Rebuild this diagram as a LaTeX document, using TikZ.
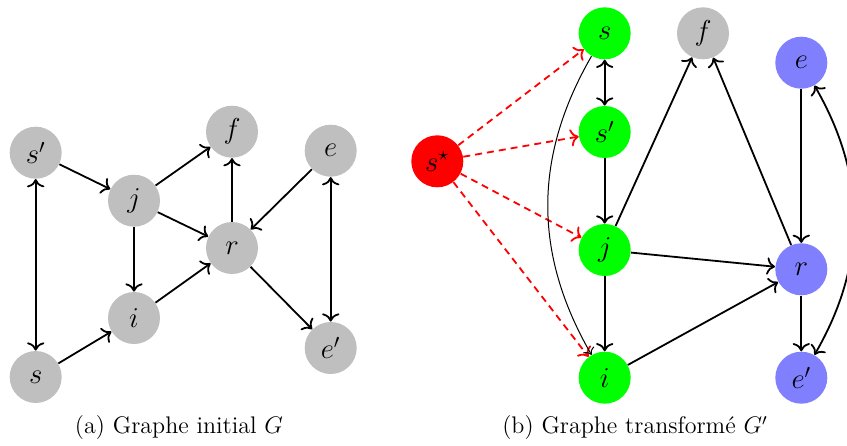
\documentclass[tikz,border=0pt]{standalone}
\usetikzlibrary{arrows.meta}
\begin{document}
\begin{tikzpicture}[x=0.5pt,y=-0.5pt,>={To[scale=1.15]},
  vtx/.style={circle,minimum size=26pt,inner sep=0pt,font=\Large},
  gv/.style={vtx,fill=lightgray},
  gn/.style={vtx,fill=green},
  bv/.style={vtx,fill=blue!50},
  rv/.style={vtx,fill=red},
  ed/.style={->,line width=0.9pt},
  bed/.style={<->,line width=0.9pt},
  redarr/.style={->,draw=red,dash pattern=on 3.5pt off 2.5pt,line width=0.9pt},
  captxt/.style={font=\large}]
\useasboundingbox (0,0) rectangle (847,445);
% (a)
\node[gv] (sp) at (35.7,152.7) {$s'$};
\node[gv] (j) at (134,200.7) {$j$};
\node[gv] (f) at (232,131.7) {$f$};
\node[gv] (e) at (330.7,150.7) {$e$};
\node[gv] (r) at (232,248) {$r$};
\node[gv] (i) at (134,318) {$i$};
\node[gv] (s) at (35.7,377) {$s$};
\node[gv] (ep) at (330.7,348) {$e'$};
\node[captxt] (capa) at (179,428) {(a) Graphe initial $G$};
\draw[bed] (sp) -- (s);
\draw[ed] (s) -- (i);
\draw[ed] (sp) -- (j);
\draw[ed] (j) -- (f);
\draw[ed] (j) -- (r);
\draw[ed] (j) -- (i);
\draw[ed] (i) -- (r);
\draw[ed] (r) -- (f);
\draw[ed] (e) -- (r);
\draw[ed] (r) -- (ep);
\draw[bed] (e) -- (ep);
% (b)
\node[rv] (ss) at (437.3,161.3) {$s^\star$};
\node[gn] (s2) at (604.7,33.3) {$s$};
\node[gn] (sp2) at (604.7,132) {$s'$};
\node[gn] (j2) at (604.7,250) {$j$};
\node[gn] (i2) at (604.7,377.7) {$i$};
\node[gv] (f2) at (703,33.3) {$f$};
\node[bv] (e2) at (801.3,62.7) {$e$};
\node[bv] (r2) at (801.3,269.3) {$r$};
\node[bv] (ep2) at (801.3,377.7) {$e'$};
\node[captxt] (capb) at (635,428) {(b) Graphe transformé $G'$};
\draw[redarr] (ss) -- (s2);
\draw[redarr] (ss) -- (sp2);
\draw[redarr] (ss) -- (j2);
\draw[redarr] (ss) -- (i2);
\draw[bed] (s2) -- (sp2);
\draw[ed] (sp2) -- (j2);
\draw[ed] (j2) -- (i2);
\draw[ed] (j2) -- (f2);
\draw[ed] (j2) -- (r2);
\draw[ed] (i2) -- (r2);
\draw[ed] (r2) -- (f2);
\draw[ed] (e2) -- (r2);
\draw[ed] (r2) -- (ep2);
\draw[bed] (e2) to[bend left=30] (ep2);
\draw[->,line width=0.5pt] (s2) to[bend right=30] (i2);
\end{tikzpicture}
\end{document}
